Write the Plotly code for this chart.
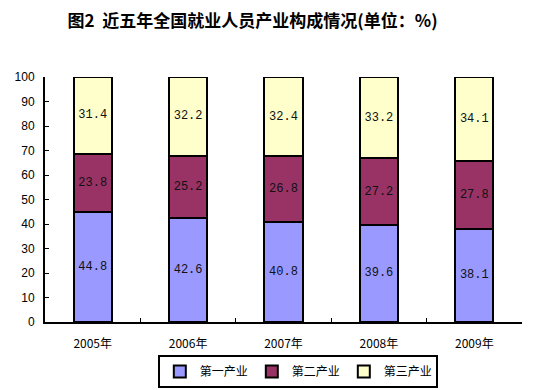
import plotly.graph_objects as go

years = ["2005年", "2006年", "2007年", "2008年", "2009年"]
primary = [44.8, 42.6, 40.8, 39.6, 38.1]
secondary = [23.8, 25.2, 26.8, 27.2, 27.8]
tertiary = [31.4, 32.2, 32.4, 33.2, 34.1]
names = ["第一产业", "第二产业", "第三产业"]
colors = ["#9999FF", "#993366", "#FFFFCC"]

font_cn = "'Noto Sans CJK SC', sans-serif"
font_num = "'Liberation Mono', 'DejaVu Sans Mono', monospace"

fig = go.Figure()
for vals, name, col in zip([primary, secondary, tertiary], names, colors):
    fig.add_trace(go.Bar(
        x=years, y=vals, name=name,
        marker=dict(color=col, line=dict(color="black", width=2)),
        text=[f"{v:.1f}" for v in vals],
        textposition="inside", insidetextanchor="middle",
        textfont=dict(family=font_num, size=12, color="#111111"),
        constraintext="none", width=0.4,
    ))

# page body has an 8px margin, so the figure is 8px smaller and offset
fig.update_layout(
    barmode="stack",
    width=526, height=382,
    margin=dict(l=37, r=12, t=69, b=68, autoexpand=False),
    paper_bgcolor="white", plot_bgcolor="white",
    title=dict(text="<b>图2  近五年全国就业人员产业构成情况(单位：%)</b>",
               x=0.465, xanchor="center", y=0.965, yanchor="middle",
               font=dict(family=font_cn, size=17, color="black")),
    font=dict(family=font_cn, size=12, color="black"),
    showlegend=True,
    legend=dict(orientation="h", x=0.53, xanchor="center", y=-0.135, yanchor="top",
                bordercolor="black", borderwidth=2, traceorder="normal",
                font=dict(family=font_cn, size=12, color="black"),
                itemwidth=30, tracegroupgap=0,
                entrywidth=47, entrywidthmode="pixels"),
)
fig.update_xaxes(
    type="category", showline=True, linecolor="black", linewidth=2,
    ticks="inside", tickson="boundaries", ticklen=4, tickcolor="black",
    showgrid=False, range=[-0.5, 4.5], automargin=False, ticklabelstandoff=10,
    tickfont=dict(family=font_cn, size=12, color="black"),
)
fig.update_yaxes(
    range=[0, 100], dtick=10, showline=True, linecolor="black", linewidth=2,
    ticks="inside", ticklen=4, tickcolor="black", showgrid=False, zeroline=False,
    automargin=False, ticklabelstandoff=6,
    tickfont=dict(family="'Liberation Sans', Arial, sans-serif", size=12, color="black"),
)

fig.write_html("out.html")
